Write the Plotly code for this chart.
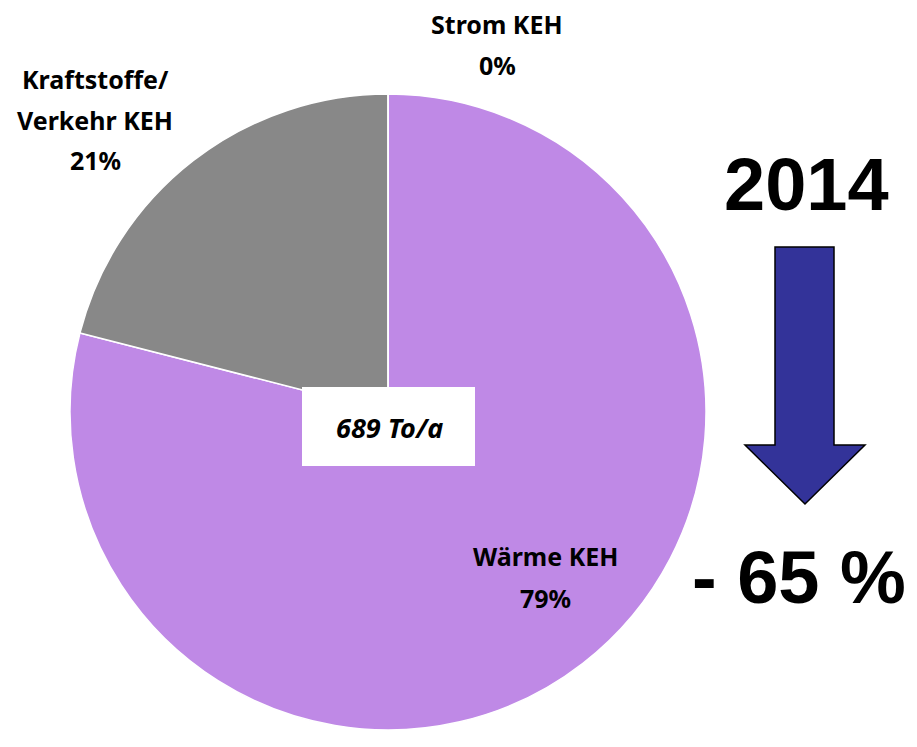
import plotly.graph_objects as go

# -----------------------------
# Daten
# -----------------------------
kategorien = ["Wärme KEH", "Kraftstoffe/<br>Verkehr KEH", "Strom KEH"]
anteile = [79, 21, 0]
farben = ["#bf89e6", "#888888", "#4f81bd"]
gesamt_text = "689 To/a"
jahr = "2014"
veraenderung = "- 65 %"

# Seite hat 8px Rand im Body
RAND = 8
W, H = 917 - 2 * RAND, 747 - 2 * RAND

def px(x, y):
    # Pixel (im Fenster) -> Papierkoordinaten
    return (x - RAND) / W, 1 - (y - RAND) / H

fig = go.Figure()

dx0, dy0 = px(70, 730)
dx1, dy1 = px(706, 94)
fig.add_trace(go.Pie(
    labels=kategorien,
    values=anteile,
    marker=dict(colors=farben, line=dict(color="white", width=1.5)),
    sort=False,
    direction="clockwise",
    rotation=0,
    textinfo="none",
    hoverinfo="label+percent",
    showlegend=False,
    domain=dict(x=[dx0, dx1], y=[dy0, dy1]),
))

label_font = dict(family="Noto Sans", size=25, color="black")
big_font = dict(family="Liberation Sans", size=74, color="black")

anno = []
def txt(x, y, s, font):
    xx, yy = px(x, y)
    anno.append(dict(x=xx, y=yy, xref="paper", yref="paper", text=s,
                     showarrow=False, font=font, xanchor="center", yanchor="middle"))

# Beschriftungen der Segmente
txt(497, 24, "<b>Strom KEH</b>", label_font)
txt(497, 65, "<b>%d%%</b>" % anteile[2], label_font)
txt(95, 79, "<b>Kraftstoffe/</b>", label_font)
txt(95, 120, "<b>Verkehr KEH</b>", label_font)
txt(95, 160, "<b>%d%%</b>" % anteile[1], label_font)
txt(545, 556, "<b>Wärme KEH</b>", label_font)
txt(545, 598, "<b>%d%%</b>" % anteile[0], label_font)

# Gesamtwert in der Mitte
txt(389, 427, "<b><i>%s</i></b>" % gesamt_text, dict(family="Noto Sans", size=27, color="black"))

# Jahr und Veränderung
txt(806, 184, "<b>%s</b>" % jahr, big_font)
xx, yy = px(908, 577)
anno.append(dict(x=xx, y=yy, xref="paper", yref="paper", text="<b>%s</b>" % veraenderung,
                 showarrow=False, font=big_font, xanchor="right", yanchor="middle"))

shapes = []
# weisser Kasten hinter dem Gesamtwert
x0, y0 = px(302, 466)
x1, y1 = px(475, 387)
shapes.append(dict(type="rect", xref="paper", yref="paper", x0=x0, y0=y0, x1=x1, y1=y1,
                   fillcolor="white", line=dict(width=0), layer="above"))

# Pfeil nach unten
pts = [(775, 247), (834, 247), (834, 445), (865, 445), (805, 504), (745, 445), (775, 445)]
path = "M " + " L ".join("%.5f,%.5f" % px(a, b) for a, b in pts) + " Z"
shapes.append(dict(type="path", xref="paper", yref="paper", path=path,
                   fillcolor="#333399", line=dict(color="black", width=1.5)))

fig.update_layout(
    width=W, height=H,
    margin=dict(l=0, r=0, t=0, b=0),
    paper_bgcolor="white",
    plot_bgcolor="white",
    annotations=anno,
    shapes=shapes,
)

fig.write_html("out.html")
